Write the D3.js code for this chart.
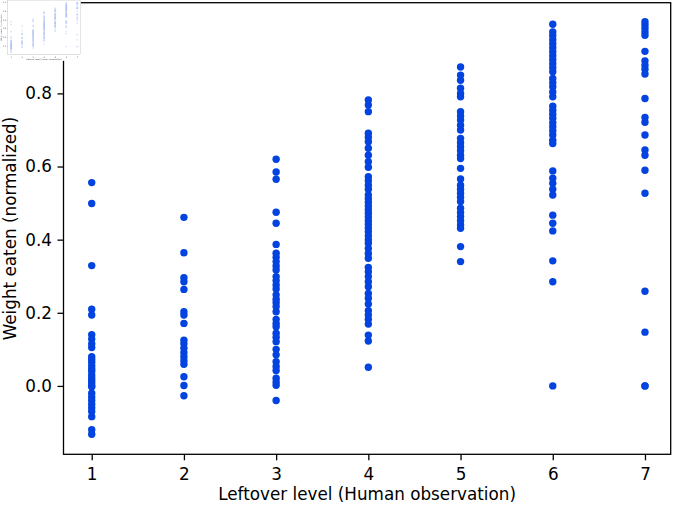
<!DOCTYPE html>
<html>
<head>
<meta charset="utf-8">
<script src="https://cdn.jsdelivr.net/npm/d3@7"></script>
<style>
  html, body { margin: 0; padding: 0; background: #fff; }
  svg { display: block; }
</style>
</head>
<body>
<script>
'use strict'

// leftover levels on the x axis
const levels = [1, 2, 3, 4, 5, 6, 7];
const yTicks = [0.0, 0.2, 0.4, 0.6, 0.8, 1.0];

// normalized weight eaten, one array per leftover level
const weightLevel1 = [0.556, 0.499, 0.329, 0.210, 0.194, 0.140, 0.128, 0.115, 0.105, 0.080, 0.072,
  0.065, 0.055, 0.047, 0.040, 0.030, 0.022, 0.015, 0.008, 0.000, -0.002, -0.020, -0.030, -0.040,
  -0.050, -0.060, -0.070, -0.084, -0.120, -0.132];
const weightLevel2 = [0.461, 0.364, 0.296, 0.285, 0.264, 0.203, 0.194, 0.171, 0.125, 0.115, 0.103,
  0.091, 0.080, 0.069, 0.059, 0.025, 0.001, -0.027];
const weightLevel3 = [0.620, 0.585, 0.565, 0.475, 0.445, 0.387, 0.363, 0.352, 0.340, 0.328, 0.317,
  0.299, 0.288, 0.276, 0.265, 0.249, 0.237, 0.228, 0.217, 0.203, 0.182, 0.171, 0.162, 0.144, 0.133,
  0.121, 0.100, 0.085, 0.066, 0.053, 0.042, 0.021, 0.011, 0.002, -0.040];
const weightLevel4 = [0.782, 0.768, 0.750, 0.691, 0.680, 0.668, 0.650, 0.631, 0.613, 0.598, 0.572,
  0.561, 0.549, 0.538, 0.522, 0.512, 0.502, 0.492, 0.482, 0.472, 0.462, 0.452, 0.442, 0.432, 0.422,
  0.411, 0.400, 0.390, 0.376, 0.362, 0.349, 0.324, 0.312, 0.299, 0.285, 0.271, 0.253, 0.240, 0.224,
  0.206, 0.194, 0.182, 0.169, 0.139, 0.123, 0.051];
const weightLevel5 = [0.872, 0.850, 0.836, 0.814, 0.800, 0.791, 0.750, 0.738, 0.727, 0.713, 0.700,
  0.677, 0.665, 0.654, 0.643, 0.631, 0.622, 0.595, 0.566, 0.549, 0.538, 0.527, 0.516, 0.504, 0.486,
  0.474, 0.463, 0.452, 0.440, 0.431, 0.381, 0.340];
const weightLevel6 = [0.989, 0.968, 0.958, 0.947, 0.936, 0.925, 0.914, 0.903, 0.892, 0.881, 0.870,
  0.859, 0.841, 0.829, 0.818, 0.804, 0.791, 0.765, 0.754, 0.743, 0.732, 0.720, 0.709, 0.698, 0.686,
  0.672, 0.663, 0.588, 0.568, 0.554, 0.538, 0.522, 0.467, 0.445, 0.424, 0.342, 0.285, 0.000];
const weightLevel7 = [0.996, 0.987, 0.978, 0.968, 0.959, 0.915, 0.889, 0.877, 0.866, 0.853, 0.786,
  0.734, 0.721, 0.686, 0.645, 0.631, 0.590, 0.527, 0.259, 0.147, 0.000, 0.000];

const weightByLevel = [weightLevel1, weightLevel2, weightLevel3, weightLevel4,
  weightLevel5, weightLevel6, weightLevel7];

const xLabel = 'Leftover level (Human observation)';
const yLabel = 'Weight eaten (normalized)';

const W = 674, H = 507;
const margin = {top: 2.7, right: 3.3, bottom: 52.7, left: 63.5};
const fontFamily = '"DejaVu Sans", sans-serif';
const fontSize = 16.8;
const dotColor = '#0343df';

const points = [];
levels.forEach((lv, i) => {
  weightByLevel[i].forEach(v => points.push({level: lv, weight: v}));
});

const x = d3.scaleLinear()
  .domain([0.694, 7.279])
  .range([margin.left, W - margin.right]);
const y = d3.scaleLinear()
  .domain([-0.187, 1.048])
  .range([H - margin.bottom, margin.top]);

const svg = d3.select('body').append('svg')
  .attr('width', W)
  .attr('height', H);

function drawChart(root) {
  // dots
  root.append('g')
    .selectAll('circle')
    .data(points)
    .enter()
    .append('circle')
    .attr('cx', d => x(d.level))
    .attr('cy', d => y(d.weight))
    .attr('r', 3.7)
    .attr('fill', dotColor);

  const xAxis = root.append('g')
    .attr('transform', 'translate(0,' + (H - margin.bottom) + ')')
    .call(d3.axisBottom(x).tickValues(levels).tickFormat(d3.format('d'))
      .tickSize(6).tickPadding(7.5).tickSizeOuter(0));

  const yAxis = root.append('g')
    .attr('transform', 'translate(' + margin.left + ',0)')
    .call(d3.axisLeft(y).tickValues(yTicks).tickFormat(d3.format('.1f'))
      .tickSize(6).tickPadding(5.5).tickSizeOuter(0));

  [xAxis, yAxis].forEach(ax => {
    ax.select('.domain').remove();
    ax.selectAll('line').attr('stroke', '#000').attr('stroke-width', 1.3);
    ax.selectAll('text')
      .attr('fill', '#000')
      .style('font-family', fontFamily)
      .style('font-size', fontSize + 'px');
  });

  // frame
  root.append('rect')
    .attr('x', margin.left)
    .attr('y', margin.top)
    .attr('width', W - margin.left - margin.right)
    .attr('height', H - margin.top - margin.bottom)
    .attr('fill', 'none')
    .attr('stroke', '#000')
    .attr('stroke-width', 1.3);

  root.append('text')
    .attr('x', (margin.left + W - margin.right) / 2)
    .attr('y', 500)
    .attr('text-anchor', 'middle')
    .style('font-family', fontFamily)
    .style('font-size', fontSize + 'px')
    .text(xLabel);

  root.append('text')
    .attr('transform', 'translate(16,' + ((margin.top + H - margin.bottom) / 2) + ') rotate(-90)')
    .attr('text-anchor', 'middle')
    .style('font-family', fontFamily)
    .style('font-size', fontSize + 'px')
    .text(yLabel);
}

// main chart
drawChart(svg.append('g'));

// small thumbnail copy of the chart in the top-left corner
const thumb = svg.append('g').attr('transform', 'scale(0.12)');
thumb.append('rect').attr('width', W).attr('height', H).attr('fill', '#fff');
drawChart(thumb.append('g').attr('opacity', 0.75));
</script>
</body>
</html>
